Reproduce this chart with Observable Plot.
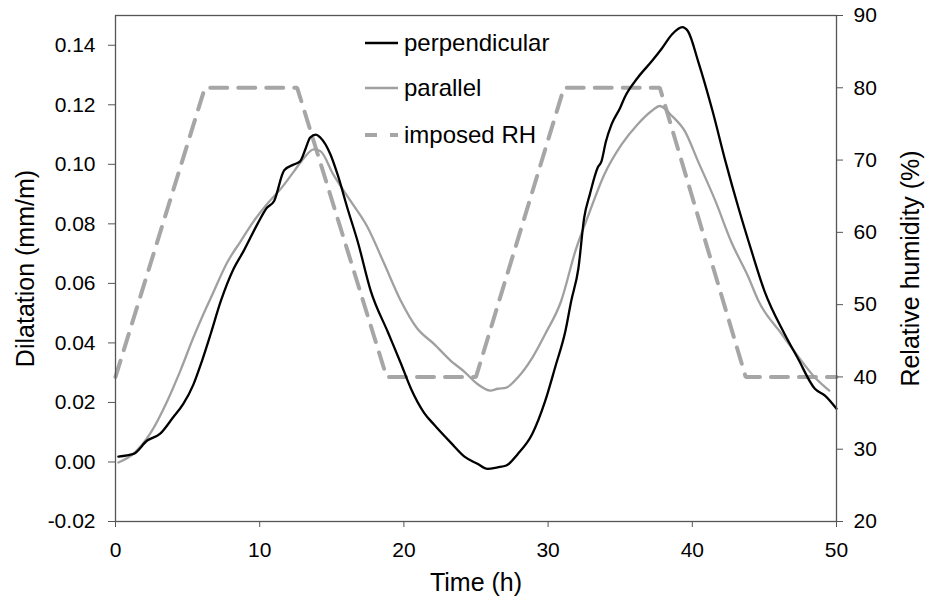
<!DOCTYPE html>
<html><head><meta charset="utf-8">
<script src="https://cdn.jsdelivr.net/npm/d3@7"></script>
<script src="https://cdn.jsdelivr.net/npm/@observablehq/plot@0.6"></script>
<style>
html,body{margin:0;padding:0;background:#fff;}
#wrap{position:relative;width:928px;height:596px;font-family:"Liberation Sans",Arial,sans-serif;}
.leg{position:absolute;left:365px;height:30px;display:flex;align-items:center;font-size:24px;color:#000;white-space:nowrap;}
.leg svg{width:39px;height:30px;display:block;}
</style></head>
<body><div id="wrap"></div>
<script>
// Time (h) and dilatation (mm/m), perpendicular
const perpT = [0.2,1.25,2.2,3.1,4.0,4.7,5.4,6.0,6.6,7.3,8.2,8.9,9.85,10.5,11.0,11.7,12.4,12.8,13.2,13.5,13.9,14.2,14.9,15.4,16.1,16.8,17.7,18.9,19.8,20.5,21.4,22.1,23.25,24.2,25.1,25.8,26.5,27.1,27.9,28.9,29.8,30.5,31.2,31.6,32.1,32.5,32.9,33.45,33.7,34.0,34.4,35.0,35.3,36.2,37.2,37.9,38.6,39.3,39.7,40.4,41.4,42.3,43.2,44.1,45.0,46.4,47.3,48.5,49.2,50.0];
const perpV = [0.0018,0.0027,0.0072,0.0095,0.015,0.0195,0.026,0.034,0.043,0.054,0.065,0.071,0.080,0.0854,0.0877,0.098,0.100,0.101,0.1055,0.109,0.110,0.109,0.1034,0.0966,0.085,0.074,0.0575,0.0435,0.033,0.0245,0.0165,0.0125,0.0065,0.0018,-0.0006,-0.0023,-0.0018,-0.0012,0.0027,0.0094,0.0205,0.032,0.044,0.054,0.065,0.082,0.090,0.099,0.101,0.1075,0.1134,0.119,0.1224,0.129,0.1347,0.139,0.1437,0.1461,0.1447,0.1347,0.118,0.101,0.0854,0.071,0.0575,0.043,0.035,0.0246,0.0223,0.0179];
// parallel
const paraT = [0.2,1.25,2.4,3.6,4.5,5.4,6.1,6.6,7.8,8.7,9.6,10.5,11.5,12.4,13.05,13.75,14.2,15.1,16.3,17.5,18.6,19.8,20.9,22.1,23.25,24.2,25.1,26.0,26.5,27.1,27.9,28.9,29.8,30.9,31.9,32.8,33.9,35.1,36.2,37.2,37.75,38.6,39.5,40.4,41.6,42.7,43.9,44.6,46.2,47.3,48.5,49.5];
const paraV = [-0.0002,0.0028,0.0095,0.0206,0.0307,0.0418,0.0497,0.055,0.0675,0.0743,0.081,0.0866,0.092,0.0978,0.102,0.105,0.1045,0.0966,0.0877,0.0787,0.067,0.054,0.045,0.0396,0.034,0.0303,0.0262,0.024,0.0246,0.025,0.0284,0.035,0.043,0.054,0.071,0.083,0.0966,0.1067,0.1134,0.118,0.1196,0.1162,0.111,0.101,0.0877,0.074,0.062,0.054,0.043,0.0357,0.0284,0.024];
// imposed relative humidity (%)
const rhT = [0,6.2,12.6,18.8,25.0,31.1,37.75,43.7,50];
const rhV = [40,80,80,40,40,80,80,40,40];
// ticks
const xTicks = [0,10,20,30,40,50];
const leftTicks = [-0.02,0,0.02,0.04,0.06,0.08,0.10,0.12,0.14];
const rightTicks = [20,30,40,50,60,70,80,90];
const seriesNames = ["perpendicular","parallel","imposed RH"];

const yMin = -0.02, yMax = 0.15, rhMin = 20, rhMax = 90;
const toLeft = rh => yMin + (rh - rhMin) / (rhMax - rhMin) * (yMax - yMin);
const fromLeft = v => rhMin + (v - yMin) / (yMax - yMin) * (rhMax - rhMin);

const perp = perpT.map((t,i) => ({t, v: perpV[i]}));
const para = paraT.map((t,i) => ({t, v: paraV[i]}));
const rh = rhT.map((t,i) => ({t, v: toLeft(rhV[i])}));

const axisColor = "#555";
const chart = Plot.plot({
  width: 928, height: 596,
  marginTop: 15, marginBottom: 75, marginLeft: 115, marginRight: 92,
  x: {domain: [0, 50]},
  y: {domain: [yMin, yMax]},
  style: {fontFamily: '"Liberation Sans", Arial, sans-serif', fontSize: "21px", color: "#000", background: "#fff", overflow: "visible"},
  marks: [
    Plot.line(rh, {x: "t", y: "v", stroke: "#a6a6a6", strokeWidth: 4, strokeDasharray: "17,11", strokeLinejoin: "miter"}),
    Plot.line(para, {x: "t", y: "v", stroke: "#a0a0a0", strokeWidth: 2.3, curve: "monotone-x"}),
    Plot.line(perp, {x: "t", y: "v", stroke: "#000", strokeWidth: 2.3, curve: "monotone-x"}),
    Plot.frame({stroke: axisColor, strokeWidth: 1.3}),
    Plot.axisX(xTicks, {tickSize: 6, tickPadding: 15, label: null, stroke: axisColor, fill: "#000", fontSize: 21, tickFormat: d => String(d)}),
    Plot.axisY(leftTicks, {anchor: "left", tickSize: 7, tickPadding: 13, label: null, stroke: axisColor, fill: "#000", fontSize: 21, tickFormat: d => d.toFixed(2)}),
    Plot.axisY(rightTicks.map(toLeft), {anchor: "right", tickSize: 6, tickPadding: 11, label: null, stroke: axisColor, fill: "#000", fontSize: 21, tickFormat: d => String(Math.round(fromLeft(d)))}),
    Plot.text(["Dilatation (mm/m)"], {frameAnchor: "left", dx: -90, rotate: -90, fontSize: 25, textAnchor: "middle", lineAnchor: "middle", fill: "#000"}),
    Plot.text(["Relative humidity (%)"], {frameAnchor: "right", dx: 74, rotate: -90, fontSize: 25, textAnchor: "middle", lineAnchor: "middle", fill: "#000"}),
    Plot.text(["Time (h)"], {frameAnchor: "bottom", dy: 61, fontSize: 25, textAnchor: "middle", lineAnchor: "middle", fill: "#000"})
  ]
});
const wrap = document.getElementById("wrap");
wrap.appendChild(chart);

// legend overlay
const legStyles = [
  {stroke: "#000", width: 2.3, dash: null, top: 27.7},
  {stroke: "#a0a0a0", width: 2.3, dash: null, top: 73.3},
  {stroke: "#a6a6a6", width: 4, dash: "12,13", top: 120}
];
seriesNames.forEach((name, i) => {
  const s = legStyles[i];
  const row = document.createElement("div");
  row.className = "leg";
  row.style.top = s.top + "px";
  row.innerHTML = `<svg viewBox="0 0 39 30"><line x1="0" x2="33" y1="15" y2="15" stroke="${s.stroke}" stroke-width="${s.width}" ${s.dash ? `stroke-dasharray="${s.dash}"` : ""}/></svg><span>${name}</span>`;
  wrap.appendChild(row);
});
</script>
</body></html>
